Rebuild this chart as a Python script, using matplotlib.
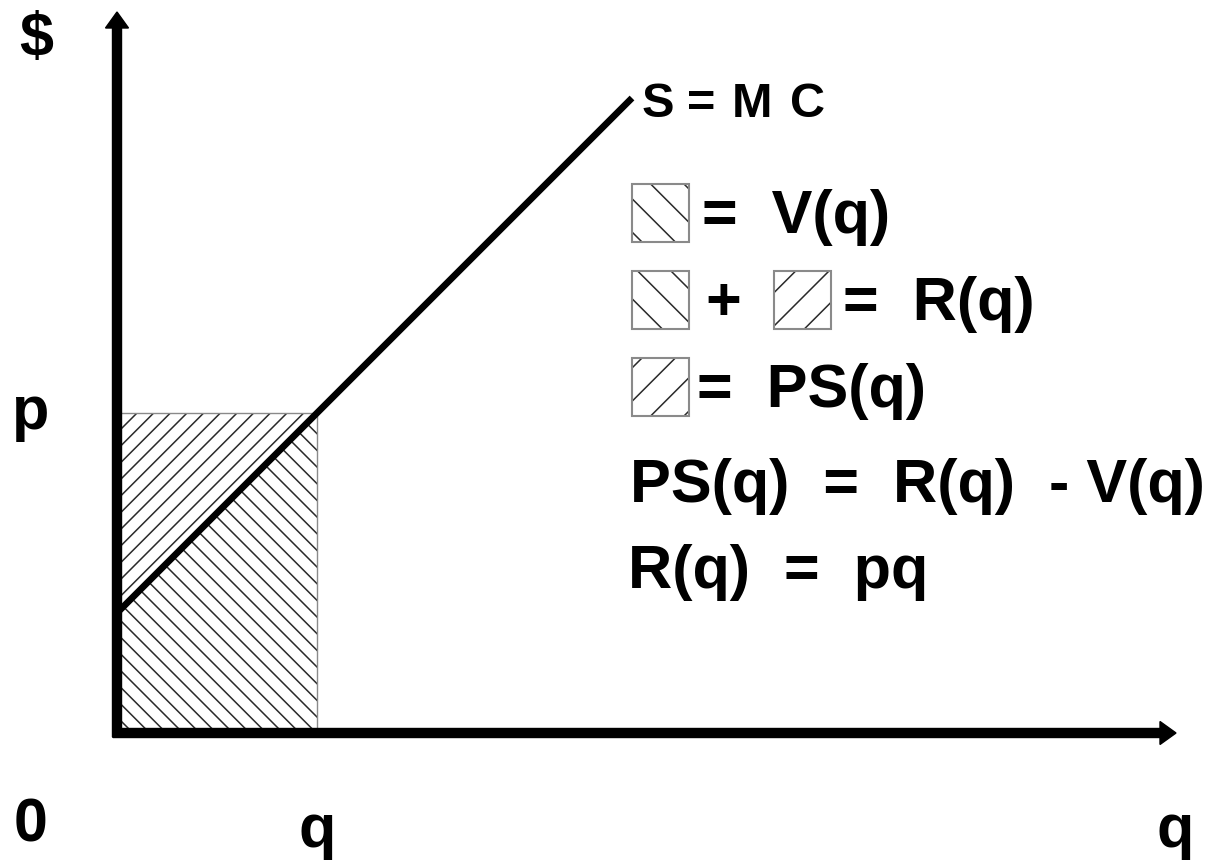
import matplotlib
matplotlib.use("Agg")
import matplotlib.pyplot as plt
from matplotlib.patches import Polygon, Rectangle

# supply curve S = MC (q, p), drawn in "pixel-like" units
supply_q = [0, 515]
supply_p = [120, 635]
q_star = 200
p_star = 320

# legend rows: (text, baseline p)
legend_rows = [("=  V(q)", 501), ("=  R(q)", 414), ("=  PS(q)", 327)]
formulas = ["PS(q)  =  R(q)  - V(q)", "R(q)  =  pq"]

plt.rcParams['font.family'] = ['Liberation Sans', 'DejaVu Sans']
plt.rcParams['hatch.linewidth'] = 1.1

fig = plt.figure(figsize=(12.14, 8.62), dpi=100)
ax = fig.add_axes([0, 0, 1, 1])
ax.set_xlim(-117, 1097)
ax.set_ylim(-128, 734)
ax.axis('off')

hatch_col = '#2a2a2a'
box_col = '#8a8a8a'

# V(q): area under supply curve up to q*
p_at_qstar = supply_p[0] + (supply_p[1] - supply_p[0]) * q_star / supply_q[1]
ax.add_patch(Polygon([(0, 0), (0, supply_p[0]), (q_star, p_at_qstar), (q_star, 0)],
                     closed=True, facecolor='white', edgecolor=hatch_col, lw=0, hatch='\\\\'))
# PS(q): triangle above supply, below p
ax.add_patch(Polygon([(0, supply_p[0]), (0, p_star), (q_star, p_star)],
                     closed=True, facecolor='white', edgecolor=hatch_col, lw=0, hatch='//'))
ax.add_patch(Rectangle((0, 0), q_star, p_star, fill=False, edgecolor=box_col, lw=1.0))

# supply line
ax.plot(supply_q, supply_p, color='black', lw=4.8, solid_capstyle='butt')

# axes arrows
ax.arrow(0, -4, 0, 725, width=9, head_width=23, head_length=16,
         length_includes_head=True, color='black')
ax.arrow(-4, 0, 1063, 0, width=9, head_width=23, head_length=16,
         length_includes_head=True, color='black')

fs = 44
# axis labels
ax.text(-81, 695, "$", fontsize=fs, fontweight='bold', ha='center', va='center')
ax.text(-86, 305, "p", fontsize=fs, fontweight='bold', ha='center', va='baseline')
ax.text(-86, -92, "0", fontsize=fs, fontweight='bold', ha='center', va='center')
ax.text(q_star, -113, "q", fontsize=fs, fontweight='bold', ha='center', va='baseline')
ax.text(1058, -113, "q", fontsize=fs, fontweight='bold', ha='center', va='baseline')

# S=MC label (spread letters)
for ch, qx in zip(["S", "=", "M", "C"], [525, 570, 615, 673]):
    ax.text(qx, 617, ch, fontsize=35, fontweight='bold', ha='left', va='baseline')

# legend swatches
def swatch(q0, p0, hatch):
    ax.add_patch(Rectangle((q0, p0), 57, 58, facecolor='white', edgecolor=hatch_col,
                           lw=0, hatch=hatch))
    ax.add_patch(Rectangle((q0, p0), 57, 58, fill=False, edgecolor=box_col, lw=1.5))

swatch(515, 491, '\\')
swatch(515, 404, '\\')
swatch(657, 404, '/')
swatch(515, 317, '/')

ax.text(585, legend_rows[0][1], legend_rows[0][0], fontsize=fs, fontweight='bold', va='baseline')
ax.text(588, legend_rows[1][1], "+", fontsize=fs, fontweight='bold', va='baseline')
ax.text(726, legend_rows[1][1], legend_rows[1][0], fontsize=fs, fontweight='bold', va='baseline')
ax.text(580, legend_rows[2][1], legend_rows[2][0], fontsize=fs, fontweight='bold', va='baseline')

ax.text(513, 232, formulas[0], fontsize=fs, fontweight='bold', va='baseline')
ax.text(511, 146, formulas[1], fontsize=fs, fontweight='bold', va='baseline')

fig.savefig("out.png", dpi=100, facecolor='white')
